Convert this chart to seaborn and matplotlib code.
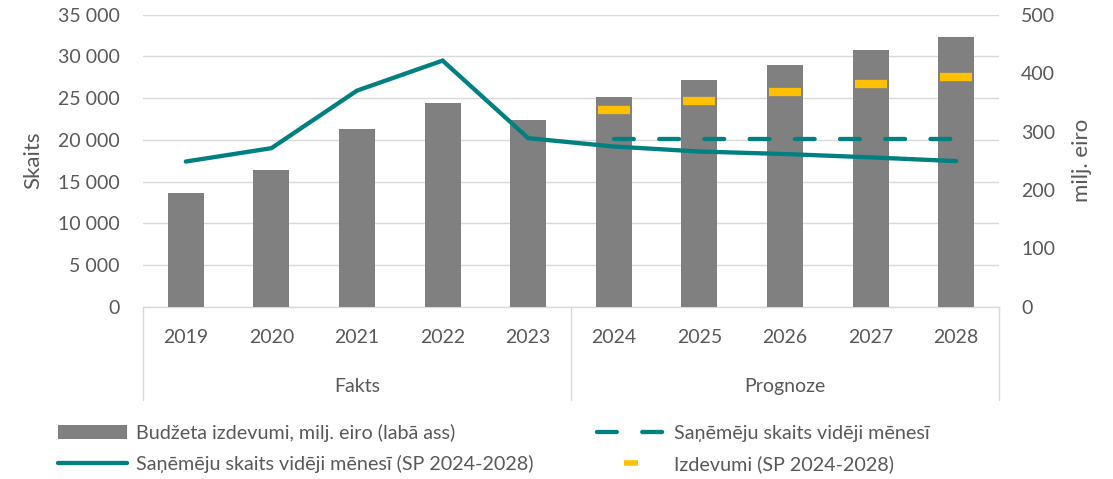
import matplotlib
matplotlib.use("Agg")
import matplotlib.pyplot as plt
import matplotlib.transforms as mtransforms
from matplotlib.lines import Line2D
from matplotlib.ticker import FuncFormatter, MultipleLocator
import seaborn as sns
import pandas as pd
import numpy as np

# ---------------- data ----------------
years = ["2019", "2020", "2021", "2022", "2023", "2024", "2025", "2026", "2027", "2028"]
budget = [194, 234, 304, 348, 319, 359, 389, 414, 439, 461]              # milj. eiro (right axis)
recipients_sp = [17400, 19000, 25900, 29500, 20200, 19200, 18600, 18300, 17900, 17450]  # solid
forecast_years = ["2024", "2025", "2026", "2027", "2028"]
recipients_avg = [20100, 20100, 20100, 20100, 20100]                     # dashed
spending_sp = [336, 353, 368, 381, 393]                                   # yellow markers (right axis)
groups = ["Fakts", "Prognoze"]
group_sizes = [5, 5]

lbl_bar = "Budžeta izdevumi, milj. eiro (labā ass)"
lbl_dash = "Saņēmēju skaits vidēji mēnesī"
lbl_solid = "Saņēmēju skaits vidēji mēnesī (SP 2024-2028)"
lbl_yellow = "Izdevumi (SP 2024-2028)"

# ---------------- style ----------------
sns.set_theme(style="white")
plt.rcParams["font.family"] = ["Lato", "DejaVu Sans"]
TXT = "#595959"
GRID = "#D9D9D9"
TEAL = "#008080"
GRAY = "#808080"
YEL = "#FFC000"

pos = np.arange(len(years))
fpos = np.array([years.index(y) for y in forecast_years])
df = pd.DataFrame({"pos": pos, "budget": budget, "rec": recipients_sp})
dff = pd.DataFrame({"pos": fpos, "avg": recipients_avg, "sp": spending_sp})

W, H = 1113, 479
fig = plt.figure(figsize=(W / 100, H / 100), dpi=100)
ax = fig.add_axes([143 / W, 1 - 306.7 / H, 856 / W, 292 / H])
axr = ax.twinx()
ax3 = ax.twinx()

# bars on right scale
sns.barplot(data=df, x="pos", y="budget", ax=axr, native_scale=True, color=GRAY,
            saturation=1, width=0.42, linewidth=0)
# yellow markers on right scale
sns.lineplot(data=dff, x="pos", y="sp", ax=axr, color=YEL, marker="_", linestyle="none",
             markersize=23.5, markeredgewidth=6, markeredgecolor=YEL, legend=False)

# lines on left scale (top layer)
sns.lineplot(data=df, x="pos", y="rec", ax=ax3, color=TEAL, linewidth=3.1,
             solid_capstyle="round", solid_joinstyle="miter", legend=False)
sns.lineplot(data=dff, x="pos", y="avg", ax=ax3, color=TEAL, linewidth=3.1,
             linestyle=(0, (4.6, 5.9)), dash_capstyle="round", legend=False)

# ---------------- axes ----------------
for a in (ax, axr, ax3):
    a.set_xlim(-0.5, len(years) - 0.5)
    for s in a.spines.values():
        s.set_visible(False)
    a.set_xlabel("")
    if a.get_legend() is not None:
        a.get_legend().remove()

ax.set_ylim(0, 35000)
ax3.set_ylim(0, 35000)
axr.set_ylim(0, 500)

ax.yaxis.set_major_locator(MultipleLocator(5000))
ax.yaxis.set_major_formatter(FuncFormatter(lambda v, p: f"{int(v):,}".replace(",", " ")))
ax.yaxis.grid(True, color=GRID, linewidth=1.0)
ax.set_axisbelow(True)
ax.tick_params(axis="y", length=0, pad=17, labelsize=14, labelcolor=TXT)
ax.spines["bottom"].set_visible(True)
ax.spines["bottom"].set_color(GRID)
ax.spines["bottom"].set_linewidth(1.0)

axr.yaxis.set_major_locator(MultipleLocator(100))
axr.tick_params(axis="y", length=0, pad=16, labelsize=14, labelcolor=TXT)
axr.set_ylabel("")
ax3.set_yticks([])
ax3.set_ylabel("")

ax.set_xticks(pos)
ax.set_xticklabels(years)
ax.tick_params(axis="x", length=0, pad=16, labelsize=14, labelcolor=TXT)
for a in (axr, ax3):
    a.tick_params(axis="x", length=0, labelbottom=False)

ax.set_ylabel("Skaits", fontsize=16, color=TXT)
ax.yaxis.label.set_va("center")
ax.yaxis.set_label_coords(-0.128, 0.5)
axr.set_ylabel("milj. eiro", fontsize=16, color=TXT, rotation=90)
axr.yaxis.label.set_va("center")
axr.yaxis.set_label_coords(1.097, 0.5)

# ---------------- grouped category axis ----------------
trans = mtransforms.blended_transform_factory(ax.transData, ax.transAxes)
bounds = np.concatenate([[0], np.cumsum(group_sizes)]) - 0.5
for b in bounds:
    ax.add_line(Line2D([b, b], [0, -0.318], transform=trans, color=GRID, lw=1.0, clip_on=False))
for g, lo, hi in zip(groups, bounds[:-1], bounds[1:]):
    ax.text((lo + hi) / 2, -0.272, g, transform=trans, ha="center", va="center",
            fontsize=14, color=TXT)

# ---------------- legend ----------------
h_bar = axr.patches[0]
h_solid = ax3.get_lines()[0]
h_dash = ax3.get_lines()[1]
h_yel = Line2D([], [], color=YEL, marker="_", linestyle="none", markersize=10, markeredgewidth=4)
leg = fig.legend([h_bar, h_solid, h_dash, h_yel], [lbl_bar, lbl_solid, lbl_dash, lbl_yellow],
                 ncol=2, loc="upper left", bbox_to_anchor=(58 / W, 1 - 424 / H),
                 frameon=False, fontsize=14.2, handlelength=3.5, handleheight=0.75,
                 handletextpad=0.45, columnspacing=3.2, labelspacing=0.65,
                 labelcolor=TXT, borderaxespad=0, borderpad=0)

fig.savefig("out.png", dpi=100)
